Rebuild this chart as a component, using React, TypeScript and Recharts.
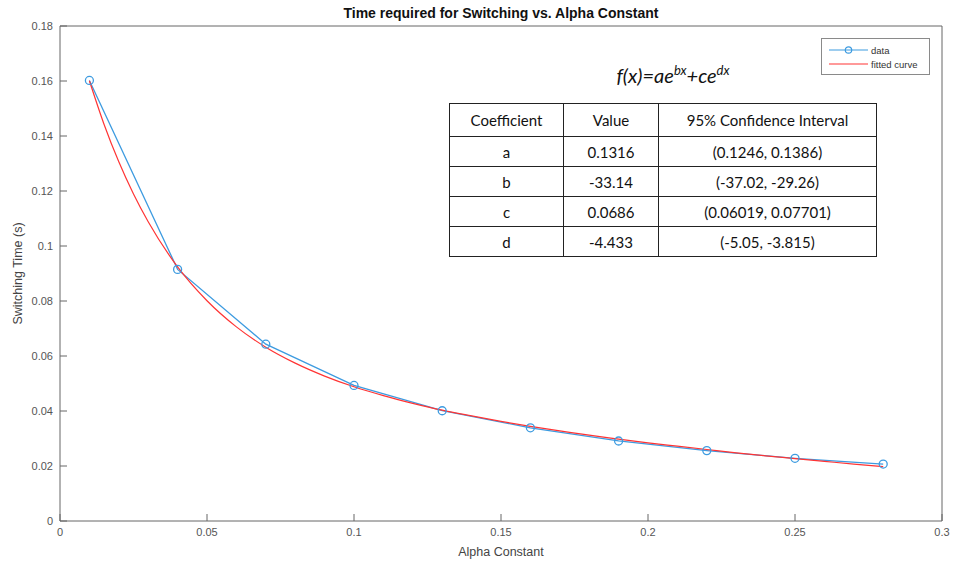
import React from 'react';
import {
  ComposedChart,
  Line,
  XAxis,
  YAxis,
} from 'recharts';

// measured switching times
const alphaValues = [0.01, 0.04, 0.07, 0.1, 0.13, 0.16, 0.19, 0.22, 0.25, 0.28];
const switchingTimes = [0.1602, 0.0915, 0.0643, 0.0493, 0.0401, 0.0339, 0.0291, 0.0256, 0.0228, 0.0207];

// fitted curve
const fitAlpha = [
  0.01, 0.015, 0.02, 0.025, 0.03, 0.04, 0.05, 0.06, 0.07, 0.08, 0.09, 0.1, 0.11, 0.12, 0.13, 0.14,
  0.15, 0.16, 0.17, 0.18, 0.19, 0.2, 0.21, 0.22, 0.23, 0.24, 0.25, 0.26, 0.27, 0.28,
];
const fitTimes = [
  0.1601, 0.1442, 0.1306, 0.1189, 0.1088, 0.0924, 0.0801, 0.0706, 0.0632, 0.0574, 0.0527, 0.0488,
  0.0456, 0.0428, 0.0403, 0.0382, 0.0362, 0.0344, 0.0328, 0.0312, 0.0298, 0.0284, 0.0272, 0.026,
  0.0248, 0.0237, 0.0227, 0.0217, 0.0207, 0.0198,
];

const xTicks = [0, 0.05, 0.1, 0.15, 0.2, 0.25, 0.3];
const yTicks = [0, 0.02, 0.04, 0.06, 0.08, 0.1, 0.12, 0.14, 0.16, 0.18];

// coefficient table
const coefNames = ['a', 'b', 'c', 'd'];
const coefValues = ['0.1316', '-33.14', '0.0686', '-4.433'];
const coefIntervals = ['(0.1246, 0.1386)', '(-37.02, -29.26)', '(0.06019, 0.07701)', '(-5.05, -3.815)'];

const dataPoints = alphaValues.map((x, i) => ({ x, y: switchingTimes[i] }));
const fitPoints = fitAlpha.map((x, i) => ({ x, y: fitTimes[i] }));

const BLUE = '#3d9be0';
const RED = '#ff3434';
const AXIS = '#666';
const TICK_LEN = 7;
const LABEL_GAP = 12;
const Y_GAP = 7;

const fmt = (v: number) => String(+v.toFixed(2));

// MATLAB style inward ticks
const BottomTick = (props: any) => {
  const { x, y, payload } = props;
  const axisY = y - LABEL_GAP;
  return (
    <g>
      <line x1={x} x2={x} y1={axisY} y2={axisY - TICK_LEN} stroke={AXIS} strokeWidth={1} />
      <text x={x} y={y} dy={3} textAnchor="middle" fontSize={11} fill="#555">
        {fmt(payload.value)}
      </text>
    </g>
  );
};

const LeftTick = (props: any) => {
  const { x, y, payload } = props;
  const axisX = x + Y_GAP;
  return (
    <g>
      <line x1={axisX} x2={axisX + TICK_LEN} y1={y} y2={y} stroke={AXIS} strokeWidth={1} />
      <text x={x} y={y} dy={4} textAnchor="end" fontSize={11} fill="#555">
        {fmt(payload.value)}
      </text>
    </g>
  );
};

const TopTick = (props: any) => {
  const { x, y } = props;
  return <line x1={x} x2={x} y1={y + 1} y2={y + 1 + TICK_LEN} stroke={AXIS} strokeWidth={1} />;
};

const RightTick = (props: any) => {
  const { x, y } = props;
  return <line x1={x - 1} x2={x - 1 - TICK_LEN} y1={y} y2={y} stroke={AXIS} strokeWidth={1} />;
};

const LegendBox = () => (
  <div
    style={{
      position: 'absolute',
      left: 821,
      top: 38,
      width: 109,
      height: 37,
      border: '1px solid #8a8a8a',
      background: '#fff',
      boxSizing: 'border-box',
    }}
  >
    <svg width={107} height={35} style={{ display: 'block' }}>
      <line x1={7} x2={46} y1={11} y2={11} stroke={BLUE} strokeWidth={1.2} />
      <circle cx={26.5} cy={11} r={3.2} fill="none" stroke={BLUE} strokeWidth={1.2} />
      <text x={49} y={14.5} fontSize={9.5} fill="#333">data</text>
      <line x1={7} x2={46} y1={25} y2={25} stroke={RED} strokeWidth={1.2} />
      <text x={49} y={28.5} fontSize={9.5} fill="#333">fitted curve</text>
    </svg>
  </div>
);

const cell: React.CSSProperties = {
  border: '1px solid #222',
  textAlign: 'center',
  padding: 0,
  height: 29,
};

export default function App() {
  return (
    <div
      style={{
        position: 'absolute',
        left: 0,
        top: 0,
        width: 953,
        height: 564,
        background: '#fff',
        fontFamily: 'Liberation Sans, Arial, sans-serif',
      }}
    >
      <div
        style={{
          position: 'absolute',
          top: 5,
          left: 60,
          width: 882,
          textAlign: 'center',
          fontWeight: 'bold',
          fontSize: 14,
          color: '#111',
        }}
      >
        Time required for Switching vs. Alpha Constant
      </div>

      <ComposedChart width={953} height={564} margin={{ top: 25, right: 10, bottom: 0, left: 0 }}>
        <XAxis
          xAxisId={0}
          dataKey="x"
          type="number"
          domain={[0, 0.3]}
          ticks={xTicks}
          allowDataOverflow
          height={43}
          tickSize={0}
          tickMargin={LABEL_GAP}
          tickLine={false}
          tick={<BottomTick />}
          stroke={AXIS}
          label={{ value: 'Alpha Constant', position: 'insideBottom', offset: 8, fill: '#444', fontSize: 12.5 }}
        />
        <XAxis
          xAxisId="top"
          dataKey="x"
          type="number"
          orientation="top"
          domain={[0, 0.3]}
          ticks={xTicks}
          height={1}
          tickSize={0}
          tickLine={false}
          tick={<TopTick />}
          stroke={AXIS}
        />
        <YAxis
          yAxisId={0}
          type="number"
          domain={[0, 0.18]}
          ticks={yTicks}
          width={60}
          tickSize={0}
          tickMargin={Y_GAP}
          tickLine={false}
          tick={<LeftTick />}
          stroke={AXIS}
          label={{ value: 'Switching Time (s)', angle: -90, position: 'insideLeft', offset: 18, fill: '#444', fontSize: 12.5, style: { textAnchor: 'middle' } }}
        />
        <YAxis
          yAxisId="right"
          type="number"
          orientation="right"
          domain={[0, 0.18]}
          ticks={yTicks}
          width={1}
          tickSize={0}
          tickLine={false}
          tick={<RightTick />}
          stroke={AXIS}
        />
        <Line
          data={dataPoints}
          dataKey="y"
          name="data"
          type="linear"
          stroke={BLUE}
          strokeWidth={1.3}
          dot={{ r: 4, fill: 'none', stroke: BLUE, strokeWidth: 1.3 }}
          activeDot={false}
          isAnimationActive={false}
        />
        <Line
          data={fitPoints}
          dataKey="y"
          name="fitted curve"
          type="monotone"
          stroke={RED}
          strokeWidth={1.2}
          dot={false}
          activeDot={false}
          isAnimationActive={false}
        />
      </ComposedChart>

      <LegendBox />

      <div
        style={{
          position: 'absolute',
          left: 469,
          top: 63,
          width: 408,
          textAlign: 'center',
          fontFamily: 'Lato, Open Sans, sans-serif',
          fontStyle: 'italic',
          fontSize: 20,
          lineHeight: '24px',
          color: '#111',
        }}
      >
        f(x)=ae<sup style={{ fontSize: 13, lineHeight: 0 }}>bx</sup>+ce<sup style={{ fontSize: 13, lineHeight: 0 }}>dx</sup>
      </div>

      <table
        style={{
          position: 'absolute',
          left: 449,
          top: 103,
          width: 428,
          borderCollapse: 'collapse',
          background: '#fff',
          fontFamily: 'Lato, Open Sans, sans-serif',
          fontSize: 15,
          color: '#111',
        }}
      >
        <tbody>
          <tr>
            <td style={{ ...cell, width: 113, height: 32 }}>Coefficient</td>
            <td style={{ ...cell, width: 94, height: 32 }}>Value</td>
            <td style={{ ...cell, height: 32 }}>95% Confidence Interval</td>
          </tr>
          {coefNames.map((name, i) => (
            <tr key={name}>
              <td style={cell}>{name}</td>
              <td style={cell}>{coefValues[i]}</td>
              <td style={cell}>{coefIntervals[i]}</td>
            </tr>
          ))}
        </tbody>
      </table>
    </div>
  );
}
